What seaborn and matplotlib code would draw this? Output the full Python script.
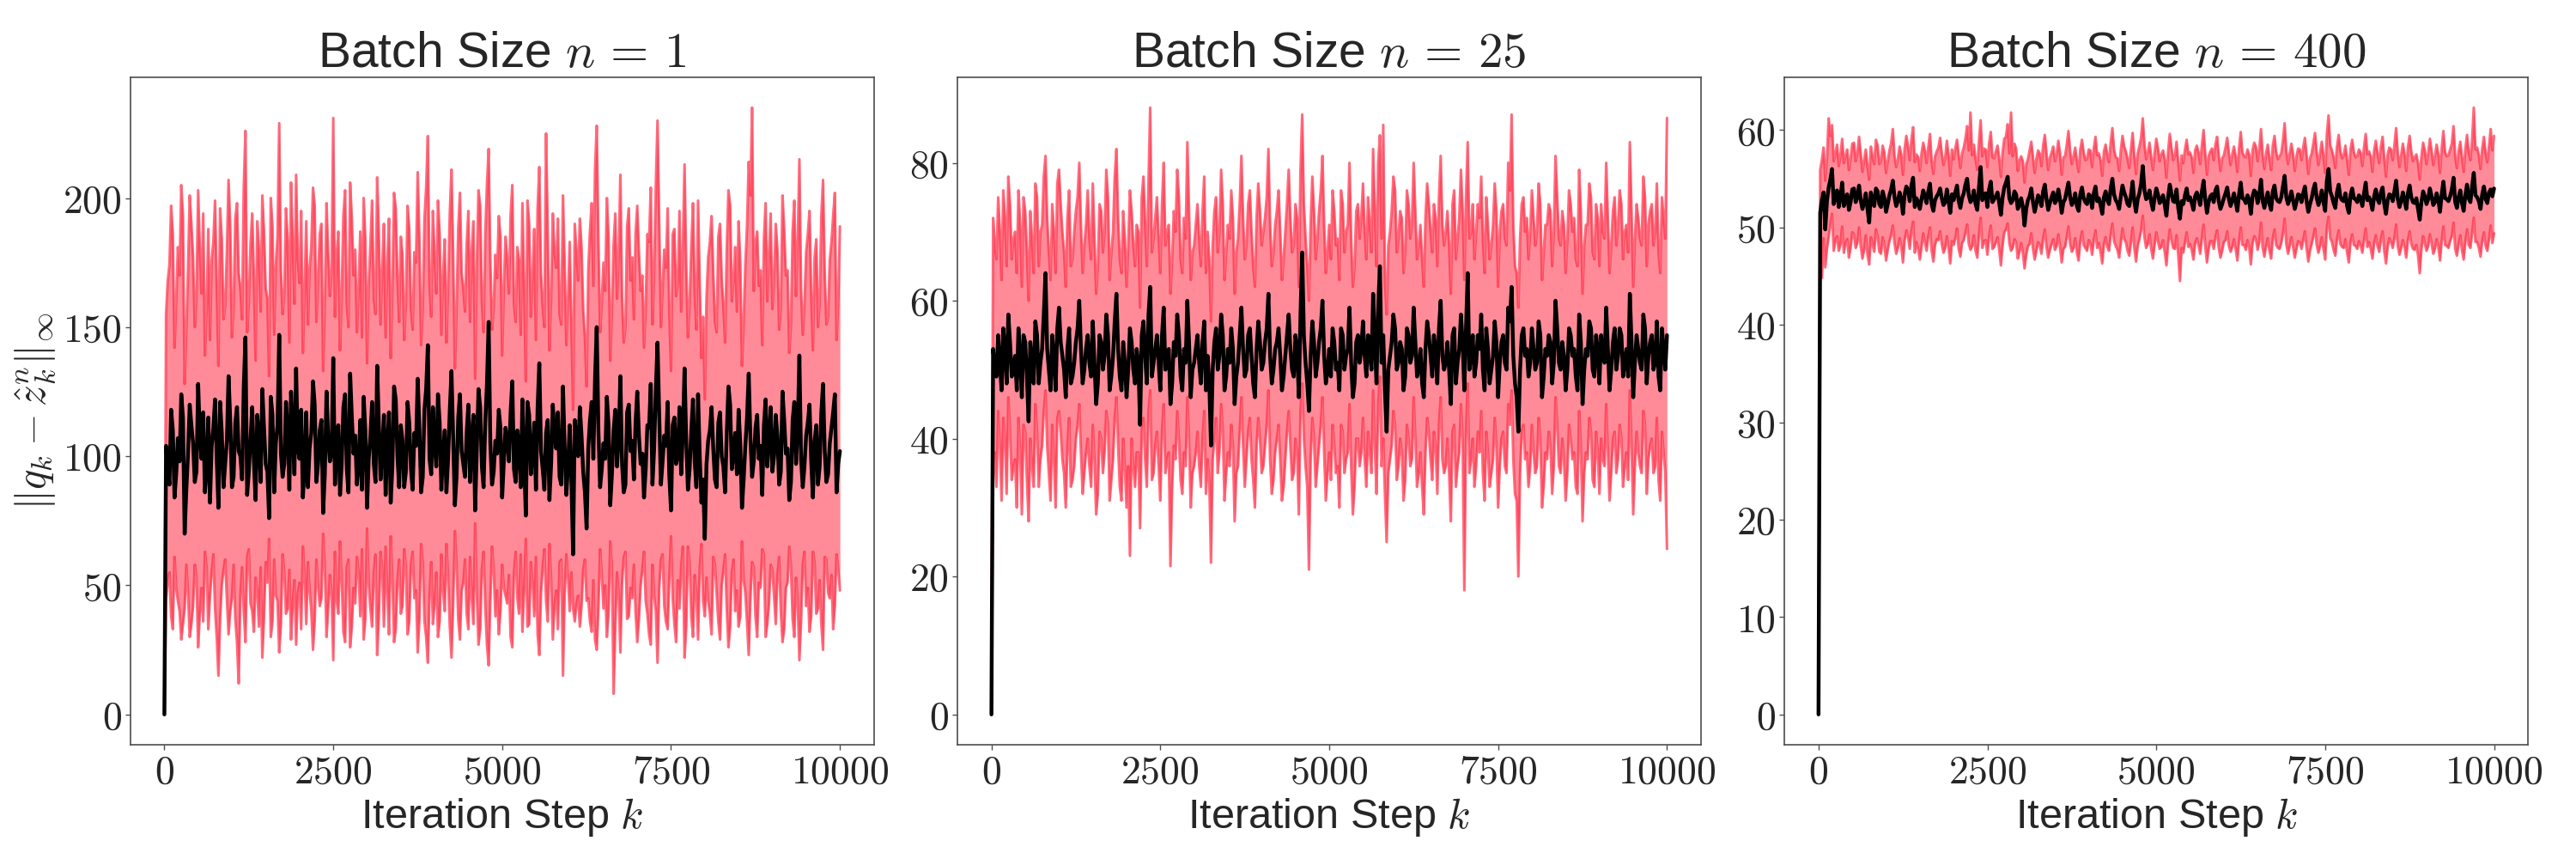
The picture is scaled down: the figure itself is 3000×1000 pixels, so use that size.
import numpy as np
import matplotlib
matplotlib.use('Agg')
import matplotlib.pyplot as plt
import seaborn as sns
from matplotlib.ticker import FuncFormatter

# iteration steps (every 25th step kept)
steps = np.arange(0, 10001, 25)

# ---- batch size n = 1 ----
mean_n1 = [0,
    104, 96, 89, 118, 110, 84, 93, 107, 98, 124, 115, 70, 87, 101, 120, 112, 105, 90, 94, 128,
    108, 99, 117, 86, 95, 115, 82, 104, 111, 122, 99, 80, 121, 109, 88, 97, 106, 131, 114, 88,
    92, 113, 119, 102, 100, 91, 127, 146, 85, 94, 107, 119, 98, 83, 116, 108, 90, 126, 111, 97,
    94, 76, 123, 116, 86, 105, 112, 147, 101, 92, 97, 121, 110, 87, 125, 111, 93, 134, 103, 99,
    118, 84, 96, 117, 88, 103, 109, 129, 120, 90, 97, 110, 114, 78, 93, 125, 107, 98, 101, 138,
    89, 106, 112, 85, 97, 119, 124, 95, 86, 132, 115, 101, 108, 89, 96, 114, 87, 123, 110, 80,
    99, 108, 121, 97, 90, 135, 112, 91, 103, 116, 85, 104, 117, 82, 96, 127, 122, 100, 88, 112,
    106, 88, 94, 121, 113, 95, 87, 109, 104, 130, 111, 86, 92, 118, 126, 143, 99, 93, 119, 105,
    96, 124, 113, 87, 101, 110, 86, 99, 118, 133, 107, 81, 92, 115, 124, 102, 97, 92, 109, 120,
    90, 107, 116, 79, 103, 126, 119, 96, 88, 113, 128, 152, 105, 89, 94, 106, 101, 118, 111, 84,
    98, 111, 106, 98, 117, 129, 95, 90, 110, 104, 88, 122, 99, 77, 121, 116, 93, 101, 113, 87,
    119, 136, 102, 95, 87, 109, 114, 83, 97, 120, 108, 103, 117, 92, 89, 127, 104, 85, 96, 112,
    91, 62, 114, 107, 100, 119, 108, 94, 86, 72, 103, 114, 121, 99, 130, 150, 110, 88, 95, 105,
    99, 123, 112, 81, 93, 110, 118, 96, 107, 131, 97, 86, 89, 117, 120, 102, 106, 91, 113, 125,
    108, 97, 101, 84, 95, 112, 111, 128, 89, 103, 126, 144, 116, 89, 98, 108, 104, 121, 92, 79,
    112, 115, 97, 100, 119, 93, 109, 134, 106, 87, 95, 110, 122, 98, 88, 124, 100, 82, 91, 68,
    97, 106, 110, 119, 103, 91, 88, 113, 117, 100, 96, 86, 109, 127, 120, 95, 101, 109, 93, 118,
    105, 80, 91, 104, 115, 132, 107, 92, 98, 111, 116, 99, 104, 85, 112, 122, 96, 107, 119, 94,
    100, 116, 108, 89, 94, 125, 114, 101, 103, 83, 90, 114, 121, 97, 110, 139, 99, 88, 96, 108,
    113, 120, 98, 84, 106, 112, 89, 96, 117, 128, 102, 90, 93, 105, 111, 117, 124, 86, 97, 102]
upper_n1 = [0,
    155, 168, 174, 197, 186, 142, 160, 181, 170, 205, 193, 128, 149, 172, 201, 190, 177, 150, 162, 203,
    180, 163, 194, 139, 157, 188, 145, 176, 183, 199, 166, 135, 196, 184, 153, 158, 179, 207, 189, 146,
    158, 192, 198, 171, 165, 153, 204, 226, 148, 160, 182, 194, 169, 137, 191, 180, 156, 201, 187, 165,
    161, 131, 200, 189, 147, 174, 185, 229, 172, 155, 163, 196, 184, 144, 206, 183, 159, 209, 176, 167,
    195, 140, 164, 191, 151, 173, 181, 204, 197, 152, 168, 186, 190, 133, 159, 198, 179, 162, 171, 231,
    154, 178, 187, 141, 163, 193, 203, 159, 150, 206, 192, 170, 180, 148, 165, 187, 146, 200, 184, 136,
    167, 182, 199, 161, 155, 208, 186, 151, 173, 190, 146, 175, 192, 138, 164, 202, 196, 169, 152, 185,
    178, 145, 160, 197, 188, 157, 149, 179, 175, 210, 184, 143, 158, 192, 204, 224, 166, 154, 195, 177,
    163, 199, 186, 147, 170, 184, 144, 166, 194, 211, 178, 134, 157, 188, 202, 171, 165, 156, 182, 195,
    152, 180, 191, 130, 174, 203, 197, 160, 148, 186, 205, 219, 176, 149, 158, 178, 169, 193, 185, 139,
    166, 185, 176, 163, 193, 205, 159, 152, 181, 176, 147, 198, 167, 129, 199, 190, 154, 170, 188, 145,
    196, 212, 171, 158, 150, 225, 187, 141, 162, 194, 179, 173, 192, 155, 151, 201, 175, 143, 161, 183,
    152, 118, 190, 179, 168, 192, 181, 157, 146, 127, 172, 187, 198, 166, 211, 228, 183, 148, 160, 175,
    164, 200, 185, 137, 157, 182, 194, 161, 178, 209, 162, 144, 150, 189, 196, 168, 177, 153, 186, 197,
    179, 164, 170, 142, 158, 186, 183, 204, 151, 172, 205, 230, 191, 150, 165, 180, 173, 196, 155, 133,
    186, 188, 162, 167, 195, 156, 181, 213, 174, 146, 159, 181, 198, 163, 149, 199, 167, 138, 154, 122,
    161, 177, 183, 193, 171, 152, 148, 185, 190, 169, 158, 144, 180, 203, 197, 160, 168, 181, 156, 191,
    175, 135, 152, 174, 189, 214, 201, 235, 164, 183, 187, 166, 172, 143, 184, 198, 160, 178, 194, 157,
    168, 190, 180, 149, 157, 201, 188, 170, 172, 140, 151, 187, 199, 162, 182, 215, 165, 147, 159, 179,
    186, 195, 163, 141, 177, 184, 150, 159, 193, 207, 171, 151, 154, 176, 183, 193, 202, 145, 161, 189]
lower_n1 = [0,
    44, 52, 55, 38, 33, 61, 49, 44, 40, 29, 35, 41, 58, 47, 30, 35, 42, 58, 53, 26,
    39, 49, 36, 63, 57, 33, 46, 55, 62, 41, 30, 15, 37, 50, 56, 60, 45, 31, 40, 45,
    58, 37, 28, 12, 46, 57, 40, 28, 61, 64, 43, 40, 32, 53, 48, 34, 57, 22, 38, 59,
    51, 68, 30, 36, 60, 46, 44, 24, 35, 62, 55, 39, 41, 56, 29, 43, 52, 27, 47, 51,
    33, 65, 54, 35, 59, 48, 40, 25, 36, 60, 50, 42, 45, 70, 57, 30, 41, 54, 47, 21,
    63, 44, 39, 67, 52, 32, 28, 57, 60, 26, 34, 49, 43, 61, 55, 38, 64, 29, 37, 72,
    50, 41, 34, 55, 62, 23, 38, 63, 56, 34, 65, 47, 31, 69, 53, 28, 33, 52, 60, 39,
    42, 64, 57, 31, 36, 58, 63, 45, 48, 24, 37, 66, 59, 36, 30, 20, 46, 59, 35, 43,
    55, 30, 36, 62, 48, 40, 66, 53, 34, 22, 43, 71, 58, 37, 29, 48, 51, 60, 39, 33,
    61, 45, 35, 74, 47, 27, 33, 56, 63, 42, 27, 19, 44, 65, 56, 38, 48, 31, 40, 58,
    49, 46, 43, 54, 30, 26, 55, 63, 45, 39, 62, 32, 48, 68, 34, 35, 59, 51, 38, 61,
    31, 23, 47, 57, 64, 44, 36, 66, 52, 29, 42, 48, 33, 59, 60, 15, 46, 62, 53, 40,
    55, 41, 36, 43, 46, 34, 42, 56, 60, 44, 45, 36, 32, 52, 29, 25, 41, 64, 54, 41,
    50, 30, 39, 67, 57, 8, 34, 55, 47, 24, 51, 61, 63, 37, 38, 49, 45, 58, 40, 28,
    37, 50, 56, 63, 44, 39, 31, 27, 58, 46, 40, 20, 49, 60, 62, 42, 36, 33, 53, 69,
    45, 35, 28, 52, 41, 57, 65, 22, 34, 65, 59, 38, 30, 54, 47, 29, 57, 66, 44, 38,
    53, 44, 39, 31, 61, 58, 47, 36, 29, 50, 56, 62, 41, 26, 34, 55, 60, 40, 48, 34,
    38, 67, 52, 47, 36, 23, 45, 59, 57, 38, 30, 51, 49, 64, 62, 30, 35, 43, 58, 56,
    46, 35, 54, 61, 40, 28, 33, 49, 51, 65, 57, 37, 30, 53, 44, 21, 36, 58, 63, 42,
    49, 32, 38, 63, 59, 39, 41, 52, 35, 25, 61, 60, 47, 45, 54, 33, 42, 62, 56, 48]

# ---- batch size n = 25 ----
mean_n25 = [0,
    53, 50, 49, 55, 51, 47, 56, 53, 48, 58, 54, 49, 50, 52, 47, 56, 52, 46, 55, 54,
    49, 42.5, 54, 51, 48, 57, 55, 48, 51, 53, 58, 64, 53, 50, 47, 55, 52, 47, 56, 59,
    54, 52, 50, 46, 53, 56, 48, 49, 51, 54, 56, 60, 53, 48, 50, 53, 55, 51, 49, 57,
    51, 45, 48, 55, 54, 50, 52, 58, 55, 47, 49, 52, 57, 61, 53, 49, 47, 54, 51, 46,
    50, 56, 54, 50, 48, 53, 51, 42, 55, 57, 52, 48, 58, 62, 49, 51, 53, 55, 51, 47,
    55, 59, 50, 52, 53, 45, 48, 54, 52, 58, 55, 49, 47, 53, 51, 60, 54, 46, 50, 51,
    53, 55, 51, 48, 54, 57, 47, 52, 48, 39, 50, 54, 56, 50, 52, 58, 55, 47, 49, 53,
    51, 56, 53, 45, 49, 51, 55, 59, 53, 49, 50, 55, 56, 52, 48, 46, 53, 57, 54, 50,
    51, 54, 56, 61, 52, 48, 50, 53, 54, 56, 52, 47, 49, 52, 55, 58, 53, 50, 49, 55,
    53, 46, 58, 67, 55, 51, 48, 44, 52, 57, 54, 49, 51, 54, 56, 60, 52, 48, 50, 53,
    49, 56, 54, 50, 51, 47, 56, 55, 50, 52, 53, 59, 51, 46, 48, 54, 55, 51, 53, 57,
    52, 49, 55, 53, 50, 61, 54, 48, 59, 65, 51, 55, 47, 41, 50, 52, 54, 58, 56, 50,
    51, 54, 53, 47, 49, 56, 55, 51, 52, 59, 54, 49, 50, 53, 48, 46, 53, 57, 55, 52,
    49, 55, 53, 48, 56, 60, 52, 50, 51, 54, 50, 45, 55, 56, 48, 51, 53, 58, 54, 47,
    56, 64, 50, 52, 55, 49, 51, 55, 53, 58, 50, 47, 56, 53, 48, 50, 52, 57, 54, 46,
    51, 54, 55, 51, 50, 59, 57, 62, 52, 48, 46, 41, 50, 55, 56, 52, 53, 49, 51, 56,
    53, 50, 51, 57, 55, 46, 49, 53, 52, 55, 54, 48, 51, 60, 56, 51, 50, 54, 52, 47,
    50, 56, 55, 52, 53, 49, 47, 58, 54, 45, 50, 53, 52, 57, 56, 50, 49, 55, 53, 48,
    55, 52, 51, 59, 53, 47, 50, 54, 56, 50, 52, 56, 55, 49, 51, 53, 49, 61, 54, 46,
    51, 55, 53, 51, 50, 58, 56, 48, 52, 54, 55, 50, 51, 57, 49, 47, 56, 53, 50, 55]
upper_n25 = [0,
    72, 68, 66, 75, 70, 63, 76, 72, 65, 78, 74, 66, 69, 70, 64, 76, 71, 62, 75, 73,
    67, 60, 73, 69, 64, 77, 75, 65, 70, 71, 78, 81, 72, 67, 63, 74, 70, 64, 77, 79,
    74, 70, 67, 62, 72, 76, 65, 66, 70, 73, 75, 80, 71, 64, 68, 71, 76, 69, 66, 77,
    69, 61, 65, 74, 73, 67, 70, 79, 75, 63, 67, 70, 78, 82, 72, 66, 64, 73, 69, 62,
    68, 76, 73, 68, 65, 71, 70, 59, 75, 78, 71, 65, 77, 88, 67, 69, 72, 75, 69, 64,
    74, 80, 68, 70, 71, 61, 66, 73, 70, 79, 75, 66, 64, 72, 69, 83, 73, 63, 67, 68,
    71, 74, 69, 65, 73, 78, 64, 70, 66, 57, 68, 73, 75, 67, 70, 79, 74, 63, 67, 71,
    69, 76, 72, 61, 67, 69, 74, 81, 72, 66, 68, 74, 76, 70, 65, 62, 72, 77, 73, 68,
    70, 72, 75, 82, 71, 65, 67, 71, 73, 76, 70, 63, 66, 70, 74, 79, 72, 67, 68, 74,
    72, 62, 79, 87, 74, 69, 65, 60, 71, 78, 73, 66, 69, 73, 76, 81, 71, 64, 67, 71,
    66, 76, 73, 68, 69, 63, 76, 74, 67, 70, 71, 80, 69, 62, 65, 73, 74, 69, 72, 77,
    70, 66, 75, 71, 67, 82, 73, 65, 80, 84, 69, 85.5, 63, 58, 68, 70, 73, 78, 76, 67,
    69, 73, 72, 64, 67, 76, 74, 69, 71, 80, 73, 66, 68, 71, 66, 62, 72, 77, 74, 70,
    67, 74, 72, 65, 75, 81, 71, 68, 70, 73, 68, 61, 74, 76, 66, 69, 72, 79, 73, 63,
    75, 83, 69, 70, 74, 66, 70, 74, 72, 78, 69, 64, 75, 71, 66, 68, 71, 77, 73, 62,
    70, 73, 74, 69, 68, 80, 76, 87, 71, 65, 64, 59, 69, 74, 75, 70, 72, 66, 70, 76,
    72, 68, 70, 77, 74, 63, 67, 71, 71, 74, 73, 65, 70, 81, 75, 69, 68, 73, 71, 64,
    69, 76, 74, 70, 72, 66, 65, 79, 73, 61, 68, 71, 71, 77, 75, 67, 66, 74, 72, 65,
    74, 70, 69, 80, 72, 64, 68, 73, 75, 68, 71, 76, 74, 66, 70, 71, 67, 83, 73, 62,
    69, 74, 72, 69, 68, 78, 75, 65, 71, 73, 74, 68, 70, 77, 67, 64, 75, 72, 69, 86.5]
lower_n25 = [0,
    35, 38, 33, 44, 39, 31, 43, 40, 32, 46, 41, 34, 36, 37, 30, 43, 38, 29, 42, 41,
    34, 28, 40, 36, 33, 45, 41, 33, 37, 39, 44, 47, 39, 35, 31, 42, 37, 30, 43, 44,
    41, 37, 35, 30, 39, 43, 33, 34, 36, 40, 42, 45, 38, 32, 35, 38, 40, 36, 33, 42,
    37, 29, 32, 41, 40, 35, 38, 44, 42, 31, 34, 37, 43, 46, 39, 33, 31, 40, 36, 30,
    36, 23, 40, 36, 33, 38, 38, 27, 41, 43, 37, 33, 44, 47, 34, 35, 39, 41, 36, 31,
    41, 45, 35, 37, 38, 21.5, 33, 39, 37, 44, 40, 34, 32, 38, 36, 46, 40, 30, 35, 36,
    38, 41, 36, 33, 40, 44, 32, 37, 34, 22, 37, 40, 43, 35, 38, 45, 41, 31, 35, 38,
    36, 42, 39, 28, 35, 36, 41, 46, 39, 33, 37, 41, 43, 37, 34, 30, 39, 43, 40, 35,
    36, 39, 42, 47, 37, 32, 34, 38, 40, 42, 37, 31, 33, 37, 41, 44, 39, 34, 35, 40,
    38, 29, 44, 48, 40, 36, 33, 21, 37, 43, 40, 33, 36, 39, 42, 46, 38, 31, 35, 38,
    34, 42, 39, 35, 36, 30, 42, 41, 35, 37, 38, 45, 36, 29, 33, 40, 40, 36, 38, 43,
    37, 33, 41, 38, 35, 47, 39, 32, 45, 49, 36, 40, 32, 25, 35, 37, 39, 44, 42, 34,
    36, 40, 38, 31, 34, 42, 40, 36, 37, 46, 40, 33, 35, 38, 33, 29, 38, 43, 41, 37,
    34, 41, 39, 32, 42, 46, 37, 35, 36, 40, 35, 28, 41, 42, 33, 36, 38, 45, 40, 18,
    41, 48, 35, 37, 40, 33, 36, 41, 38, 44, 35, 31, 41, 38, 33, 35, 37, 43, 39, 30,
    36, 40, 41, 36, 35, 45, 42, 47, 37, 32, 31, 20, 35, 41, 42, 37, 38, 33, 36, 42,
    38, 35, 36, 43, 40, 30, 33, 38, 37, 41, 39, 32, 36, 46, 42, 36, 35, 40, 37, 31,
    35, 42, 40, 37, 38, 33, 32, 44, 39, 28, 35, 38, 37, 43, 41, 34, 33, 41, 38, 32,
    40, 37, 36, 45, 38, 31, 35, 40, 41, 35, 37, 42, 40, 33, 36, 38, 34, 47, 39, 29,
    36, 41, 38, 36, 35, 44, 42, 32, 37, 39, 40, 35, 36, 43, 34, 31, 41, 38, 35, 24]

# ---- batch size n = 400 ----
mean_n400 = [0,
    51.5, 52.8, 53.6, 49.8, 52.7, 54.1, 54.9, 56.0, 52.4, 53.2, 53.8, 52.1, 53.1, 54.6, 52.2, 53.0, 53.4, 51.8, 52.6, 53.9,
    54.0, 52.6, 53.1, 54.3, 52.8, 51.9, 52.5, 53.5, 51.9, 50.5, 53.6, 52.9, 52.2, 54.0, 53.7, 52.4, 52.1, 53.7, 53.0, 51.6,
    52.4, 53.3, 53.9, 54.8, 53.1, 52.2, 52.7, 53.6, 52.9, 51.4, 53.4, 54.2, 53.8, 52.7, 54.3, 55.1, 52.1, 53.0, 52.6, 51.9,
    52.9, 53.8, 53.2, 52.5, 53.7, 54.5, 52.4, 51.7, 52.8, 53.2, 53.5, 54.0, 53.0, 52.3, 52.6, 53.9, 52.7, 51.5, 53.4, 52.8,
    53.6, 54.3, 52.7, 52.0, 53.0, 53.5, 54.4, 55.0, 53.3, 52.6, 52.9, 53.8, 52.4, 51.8, 54.1, 56.2, 52.8, 53.4, 53.5, 52.1,
    53.9, 54.7, 52.6, 52.9, 53.2, 53.6, 52.5, 51.3, 53.1, 54.1, 54.6, 55.2, 53.0, 52.5, 52.8, 53.7, 53.4, 51.9, 52.3, 53.0,
    52.1, 50.2, 51.9, 52.8, 53.2, 54.0, 52.6, 51.6, 52.4, 53.3, 53.0, 52.2, 53.7, 54.4, 52.9, 51.8, 52.5, 53.1, 53.6, 52.5,
    52.8, 53.9, 52.9, 51.5, 52.6, 52.9, 53.8, 54.6, 53.1, 52.3, 52.7, 53.5, 52.2, 51.7, 53.4, 54.1, 53.0, 52.6, 52.4, 53.4,
    53.2, 52.0, 53.5, 54.2, 52.7, 53.0, 52.3, 51.4, 53.1, 53.7, 52.8, 52.4, 54.0, 55.0, 53.4, 52.8, 52.5, 51.9, 53.2, 54.3,
    53.6, 53.1, 52.4, 52.2, 53.3, 54.7, 52.7, 51.6, 52.9, 53.5, 54.5, 56.3, 53.8, 52.9, 53.1, 53.8, 52.6, 51.8, 53.0, 54.0,
    53.4, 52.5, 52.8, 53.3, 52.3, 51.2, 53.1, 54.4, 53.5, 52.7, 52.6, 53.9, 52.0, 50.9, 52.7, 52.4, 53.3, 54.0, 52.8, 53.1,
    52.5, 51.8, 53.2, 53.6, 53.0, 52.3, 53.7, 54.8, 52.9, 51.5, 52.6, 53.2, 53.4, 52.6, 53.8, 54.2, 52.7, 51.9, 52.4, 53.0,
    53.5, 54.1, 52.9, 52.2, 52.8, 53.5, 52.6, 51.7, 53.4, 54.6, 53.0, 52.9, 52.5, 53.3, 52.8, 51.4, 53.2, 53.8, 53.6, 52.5,
    53.3, 54.9, 52.7, 52.0, 52.9, 53.6, 52.4, 51.8, 53.7, 54.3, 53.0, 52.7, 52.6, 53.1, 54.2, 55.3, 53.1, 52.4, 52.9, 53.7,
    52.8, 51.9, 52.6, 53.4, 53.3, 52.6, 53.5, 54.2, 52.7, 51.6, 52.4, 53.0, 53.9, 54.5, 53.0, 52.3, 52.9, 53.8, 52.6, 51.7,
    54.8, 56.0, 53.7, 53.2, 52.5, 52.0, 53.6, 54.4, 53.1, 52.8, 52.7, 53.5, 52.2, 51.5, 53.3, 54.0, 53.0, 52.9, 52.6, 53.3,
    53.0, 52.2, 53.5, 54.6, 52.8, 53.1, 52.6, 51.8, 53.2, 53.9, 52.9, 52.5, 53.6, 54.1, 52.4, 51.4, 52.8, 53.4, 53.3, 52.7,
    53.7, 54.8, 52.9, 52.1, 52.7, 53.6, 52.8, 51.9, 53.5, 54.3, 53.1, 52.6, 52.5, 53.0, 51.9, 50.8, 52.6, 53.7, 53.2, 52.4,
    52.9, 54.0, 53.2, 52.3, 52.6, 53.5, 52.8, 51.6, 53.4, 54.7, 53.0, 52.9, 52.7, 53.2, 53.9, 55.1, 52.6, 52.0, 53.1, 53.8,
    52.5, 51.7, 53.3, 54.4, 53.0, 52.6, 54.2, 55.6, 53.3, 53.1, 52.7, 51.9, 53.4, 54.2, 52.9, 52.5, 53.6, 53.9, 53.2, 54.0]
upper_n400 = [0,
    55.9, 56.9, 58.2, 54.8, 57.1, 61.2, 59.4, 60.5, 56.8, 57.6, 58.5, 56.3, 57.4, 59.1, 56.6, 57.4, 58.0, 55.9, 57.0, 58.6,
    58.7, 56.8, 57.5, 59.3, 57.6, 55.7, 56.9, 58.0, 56.2, 54.9, 58.3, 57.2, 56.5, 59.0, 58.4, 56.5, 56.8, 58.4, 57.7, 55.6,
    56.8, 57.9, 58.6, 60.1, 57.3, 56.2, 57.0, 58.3, 57.5, 55.4, 58.1, 59.4, 58.3, 56.9, 59.0, 60.3, 56.7, 57.5, 57.2, 55.8,
    57.6, 58.7, 57.9, 56.6, 58.2, 59.6, 56.8, 55.5, 57.3, 57.8, 58.2, 59.2, 57.6, 56.4, 57.1, 58.9, 57.4, 55.3, 58.0, 57.0,
    58.1, 59.0, 57.4, 56.1, 57.6, 58.2, 59.1, 60.4, 57.9, 61.8, 57.4, 58.5, 57.0, 55.9, 58.8, 61.0, 57.3, 58.1, 58.0, 56.2,
    58.6, 59.8, 57.2, 57.1, 57.8, 58.4, 57.1, 55.2, 57.7, 59.1, 59.3, 60.6, 57.6, 61.8, 57.3, 58.6, 58.1, 55.8, 56.9, 57.3,
    56.8, 54.6, 56.5, 57.0, 57.9, 58.8, 57.2, 55.6, 57.0, 57.9, 57.6, 56.3, 58.4, 59.5, 57.6, 55.9, 57.1, 57.7, 58.3, 56.8,
    57.5, 58.9, 57.6, 55.4, 57.2, 57.3, 58.5, 59.9, 57.8, 56.5, 57.3, 58.2, 56.8, 55.7, 58.0, 59.0, 57.7, 56.9, 57.0, 58.0,
    57.9, 56.2, 58.1, 59.3, 57.4, 57.6, 56.9, 55.3, 57.8, 58.5, 57.4, 56.7, 58.7, 60.2, 58.0, 57.2, 57.1, 55.8, 57.9, 59.4,
    58.3, 57.8, 57.0, 56.1, 58.0, 59.7, 57.3, 55.5, 57.6, 58.3, 59.2, 61.2, 58.5, 57.0, 57.7, 58.7, 57.2, 55.9, 57.6, 59.1,
    58.1, 56.8, 57.5, 57.9, 57.0, 55.1, 57.8, 59.6, 58.2, 56.9, 57.3, 58.8, 56.7, 54.8, 57.4, 56.6, 58.0, 59.0, 57.5, 57.7,
    57.2, 55.6, 57.9, 58.4, 57.7, 56.5, 58.4, 60.0, 57.6, 55.4, 57.3, 57.8, 58.1, 56.9, 58.5, 59.3, 57.4, 55.8, 57.1, 57.4,
    58.2, 59.2, 57.6, 56.4, 57.5, 58.3, 57.3, 55.7, 58.1, 59.8, 57.7, 57.3, 57.2, 58.0, 57.5, 55.3, 57.9, 58.7, 58.3, 56.8,
    58.0, 60.1, 57.4, 56.0, 57.6, 58.5, 57.1, 55.9, 58.4, 59.4, 57.7, 57.0, 57.3, 57.6, 58.9, 60.7, 57.8, 56.5, 57.6, 58.6,
    57.5, 55.8, 57.3, 58.1, 58.0, 56.9, 58.2, 59.2, 57.4, 55.5, 57.1, 57.6, 58.6, 59.7, 57.7, 56.4, 57.6, 58.8, 57.3, 55.6,
    59.5, 61.5, 58.4, 57.9, 57.2, 56.1, 58.3, 59.5, 57.8, 57.1, 57.4, 58.4, 56.9, 55.4, 58.0, 59.0, 57.7, 57.2, 57.3, 58.0,
    57.7, 56.3, 58.2, 59.6, 57.5, 57.8, 57.3, 55.7, 57.9, 58.9, 57.6, 56.6, 58.3, 59.3, 57.1, 55.2, 57.5, 58.2, 58.0, 56.9,
    58.4, 60.2, 57.6, 56.2, 57.4, 58.6, 57.5, 55.8, 58.2, 59.4, 57.8, 56.8, 57.2, 57.5, 56.6, 54.9, 57.3, 58.7, 57.9, 56.5,
    57.6, 59.1, 57.9, 56.4, 57.3, 58.5, 57.5, 55.6, 58.1, 59.9, 57.7, 57.3, 57.4, 58.0, 58.6, 60.4, 57.3, 56.1, 57.8, 58.8,
    57.2, 55.7, 58.0, 59.5, 57.7, 56.9, 58.9, 62.3, 58.0, 58.2, 57.4, 56.0, 58.1, 59.3, 57.6, 56.7, 58.3, 60.1, 57.9, 59.4]
lower_n400 = [0,
    46.2, 44.8, 48.9, 45.9, 47.8, 49.0, 50.3, 51.4, 47.6, 48.7, 49.1, 47.6, 48.3, 50.1, 47.4, 48.4, 48.8, 46.9, 47.9, 49.5,
    49.3, 47.9, 48.4, 50.0, 48.1, 46.8, 47.7, 49.2, 47.2, 46.2, 49.0, 48.3, 47.5, 49.8, 49.1, 47.5, 47.3, 49.0, 48.2, 46.6,
    47.7, 48.6, 49.2, 50.2, 48.4, 47.3, 47.9, 48.9, 48.1, 46.4, 48.7, 49.7, 49.0, 47.8, 49.6, 50.6, 47.4, 48.5, 47.8, 46.7,
    48.0, 49.4, 48.5, 47.6, 49.1, 50.0, 47.6, 46.5, 48.2, 48.8, 48.7, 49.6, 48.3, 47.4, 47.9, 49.1, 47.9, 46.3, 48.6, 48.2,
    48.9, 49.9, 47.8, 47.0, 48.4, 48.7, 49.5, 50.3, 48.3, 47.7, 48.1, 49.2, 47.6, 46.9, 49.3, 51.0, 47.9, 48.6, 48.7, 47.2,
    49.1, 50.2, 47.8, 48.0, 48.5, 49.0, 47.7, 46.1, 48.2, 49.5, 49.8, 50.4, 48.4, 47.6, 47.9, 48.8, 48.5, 46.8, 47.5, 48.4,
    47.4, 45.8, 47.2, 48.1, 48.3, 49.4, 47.8, 46.7, 47.6, 48.5, 48.2, 47.3, 48.9, 49.8, 48.0, 46.9, 47.7, 48.3, 48.8, 47.7,
    48.1, 49.3, 48.0, 46.4, 47.8, 48.0, 49.0, 50.1, 48.3, 47.5, 47.9, 48.9, 47.4, 46.6, 48.6, 49.6, 48.2, 47.9, 47.6, 48.7,
    48.4, 47.2, 48.7, 49.7, 47.9, 48.4, 47.5, 46.3, 48.3, 49.0, 48.0, 47.6, 49.2, 50.4, 48.6, 48.1, 47.7, 46.9, 48.4, 49.9,
    48.8, 48.5, 47.6, 47.1, 48.5, 50.0, 47.9, 46.5, 48.1, 48.8, 49.7, 51.2, 49.0, 47.9, 48.3, 49.3, 47.8, 46.8, 48.2, 49.5,
    48.6, 47.8, 48.0, 48.7, 47.5, 46.1, 48.3, 49.8, 48.7, 47.9, 47.8, 49.2, 47.2, 44.5, 47.9, 47.4, 48.5, 49.5, 48.0, 48.3,
    47.7, 46.7, 48.4, 48.9, 48.2, 47.3, 48.9, 50.3, 48.1, 46.4, 47.8, 48.6, 48.6, 47.8, 49.0, 49.7, 47.9, 46.9, 47.6, 48.5,
    48.7, 49.6, 48.1, 47.5, 48.0, 48.8, 47.8, 46.6, 48.6, 50.0, 48.2, 48.2, 47.7, 48.7, 48.0, 46.2, 48.4, 49.1, 48.8, 47.7,
    48.5, 50.5, 47.9, 47.0, 48.1, 48.9, 47.6, 46.8, 48.9, 49.8, 48.2, 47.9, 47.8, 48.4, 49.4, 50.9, 48.3, 47.3, 48.1, 49.0,
    48.0, 46.9, 47.8, 48.6, 48.5, 47.8, 48.7, 49.6, 47.9, 46.5, 47.6, 48.3, 49.1, 49.9, 48.2, 47.4, 48.1, 49.0, 47.8, 46.7,
    50.0, 51.1, 48.9, 48.5, 47.7, 47.1, 48.8, 49.7, 48.3, 48.0, 47.9, 48.8, 47.4, 46.4, 48.5, 49.3, 48.2, 48.1, 47.8, 48.6,
    48.2, 47.4, 48.7, 49.9, 48.0, 48.5, 47.8, 46.8, 48.4, 49.2, 48.1, 47.5, 48.8, 49.6, 47.6, 46.3, 48.0, 48.9, 48.5, 47.9,
    48.9, 50.3, 48.1, 47.2, 47.9, 48.7, 48.0, 46.9, 48.7, 49.6, 48.3, 47.8, 47.7, 48.2, 47.1, 45.3, 47.8, 49.1, 48.4, 47.6,
    48.1, 49.3, 48.4, 47.3, 47.8, 48.8, 48.0, 46.6, 48.6, 50.1, 48.2, 48.1, 47.9, 48.6, 49.1, 50.5, 47.8, 47.1, 48.3, 49.2,
    47.7, 46.7, 48.5, 49.8, 48.2, 47.9, 49.4, 51.0, 48.5, 48.5, 47.9, 47.0, 48.6, 49.5, 48.1, 47.6, 48.8, 50.2, 48.4, 49.4]

titles = [r'Batch Size $n\,=\,1$', r'Batch Size $n\,=\,25$', r'Batch Size $n\,=\,400$']
means = [mean_n1, mean_n25, mean_n400]
uppers = [upper_n1, upper_n25, upper_n400]
lowers = [lower_n1, lower_n25, lower_n400]

sns.set_style('ticks')
plt.rcParams['font.family'] = ['Liberation Sans', 'DejaVu Sans']
plt.rcParams['mathtext.fontset'] = 'cm'
plt.rcParams['path.simplify'] = False

red = '#ff2d46'
edge = '0.3'
fmt = FuncFormatter(lambda v, p: f'${v:g}$')

fig, axes = plt.subplots(1, 3, figsize=(30, 10), dpi=100)
fig.subplots_adjust(left=0.0507, right=0.9813, top=0.91, bottom=0.133, wspace=0.113)

for ax, title, mean, upper, lower in zip(axes, titles, means, uppers, lowers):
    ax.fill_between(steps, lower, upper, color=red, alpha=0.55, lw=0)
    sns.lineplot(x=steps, y=upper, ax=ax, color=red, alpha=0.7, lw=2.2, estimator=None)
    sns.lineplot(x=steps, y=lower, ax=ax, color=red, alpha=0.7, lw=2.2, estimator=None)
    sns.lineplot(x=steps, y=mean, ax=ax, color='black', lw=3.2, estimator=None)

    ax.set_title(title, fontsize=41)
    ax.set_xlabel('Iteration Step $k$', fontsize=35)
    ax.set_xticks([0, 2500, 5000, 7500, 10000])
    ax.xaxis.set_major_formatter(fmt)
    ax.yaxis.set_major_formatter(fmt)
    ax.tick_params(labelsize=33, length=4, width=1, color=edge)
    for sp in ax.spines.values():
        sp.set_color(edge)
        sp.set_linewidth(1.2)

axes[0].set_ylabel(r'$\|q_k - \hat{z}_k^n\|_\infty$', fontsize=35)

fig.savefig('out.png', dpi=100)
